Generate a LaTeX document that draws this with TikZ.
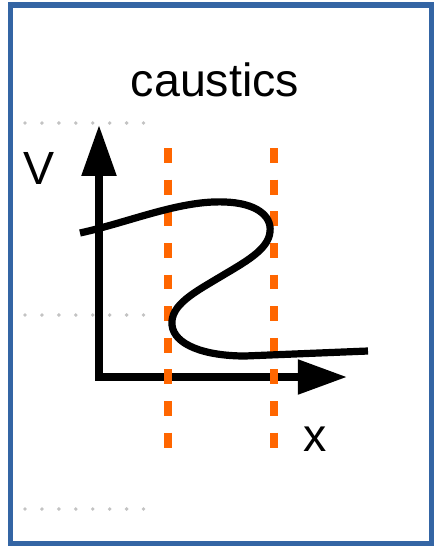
\documentclass[tikz,border=0pt]{standalone}
\usepackage{fontspec}
\setmainfont{Liberation Sans}
\usetikzlibrary{arrows.meta}
\definecolor{frameblue}{RGB}{52, 101, 164}
\definecolor{cutorange}{RGB}{255, 102, 0}
\definecolor{dotgray}{RGB}{195, 195, 195}

\begin{document}
\begin{tikzpicture}[x=0.02cm, y=-0.02cm,
    lbl/.style={font=\fontsize{26.5}{30}\selectfont, inner sep=0pt, anchor=base},
    axis/.style={line width=4.25pt, line join=miter,
        {Triangle[length=29pt, width=19pt]}-{Triangle[length=28pt, width=19pt]}},
    cut/.style={cutorange, line width=4pt, dash pattern=on 8.5pt off 9.5pt},
    guide/.style={dotgray, line width=2.2pt, line cap=round, dash pattern=on 0pt off 9.64pt}]
        \useasboundingbox (0,0) rectangle (435,549);
        % frame and faint guides
        \draw[frameblue, line width=3.4pt] (10.5,5) rectangle (431.5,543.5);
        \draw[guide] (25,123) -- (146,123);
        \draw[guide] (25,315) -- (146,315);
        \draw[guide] (25,509) -- (146,509);
        % labels
        \node[lbl] (title) at (215,96) {caustics};
        \node[lbl] (vlbl) at (39,184) {V};
        \node[lbl] (xlbl) at (315,451) {x};
        % axes
        \coordinate (O) at (99,377);
        \coordinate (ytip) at (99,125);
        \coordinate (xtip) at (347,377);
        \draw[axis] (ytip) -- (O) -- (xtip);
        % caustic lines
        \coordinate (c1top) at (168,148);
        \coordinate (c1bot) at (168,448);
        \coordinate (c2top) at (274,148);
        \coordinate (c2bot) at (274,448);
        \draw[cut] (c1top) -- (c1bot);
        \draw[cut] (c2top) -- (c2bot);
        % folded curve
        \draw[line width=4.1pt, line cap=butt]
            (80,233) .. controls (130,222) and (180,200) .. (225,202)
            .. controls (255,203) and (272,215) .. (270,232)
            .. controls (268,250) and (245,262) .. (220,277)
            .. controls (195,292) and (170,305) .. (172,325)
            .. controls (174,345) and (205,356) .. (245,356)
            -- (368,351);
    \end{tikzpicture}
\end{document}
